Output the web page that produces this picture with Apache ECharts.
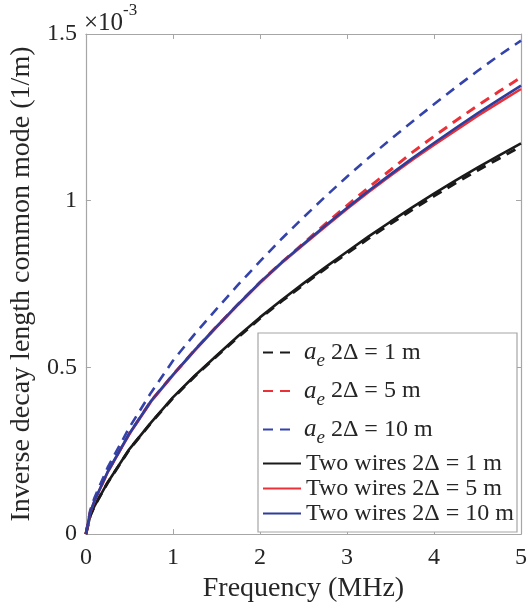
<!DOCTYPE html>
<html>
<head>
<meta charset="utf-8">
<script src="https://cdn.jsdelivr.net/npm/echarts@6/dist/echarts.min.js"></script>
<style>
  html, body { margin: 0; padding: 0; background: #fff; }
  #container { width: 530px; height: 608px; }
</style>
</head>
<body>
<div id="container"></div>
<script>
// frequency in MHz, values in units of 1e-3 (1/m)
var freq = [0, 0.05, 0.1, 0.25, 0.5, 0.75, 1, 1.25, 1.5, 1.75, 2, 2.25, 2.5, 2.75, 3, 3.25, 3.5, 3.75, 4, 4.25, 4.5, 4.75, 5];
var ae1  = [0, 0.055, 0.085, 0.154, 0.254, 0.334, 0.408, 0.473, 0.533, 0.591, 0.647, 0.699, 0.748, 0.796, 0.842, 0.887, 0.931, 0.973, 1.014, 1.053, 1.091, 1.127, 1.163];
var ae5  = [0, 0.066, 0.101, 0.187, 0.302, 0.400, 0.478, 0.552, 0.622, 0.690, 0.755, 0.815, 0.872, 0.930, 0.985, 1.040, 1.092, 1.145, 1.193, 1.240, 1.285, 1.328, 1.370];
var ae10 = [0, 0.072, 0.110, 0.200, 0.320, 0.425, 0.520, 0.600, 0.675, 0.748, 0.818, 0.886, 0.950, 1.012, 1.072, 1.129, 1.184, 1.237, 1.289, 1.340, 1.389, 1.436, 1.480];
var tw1  = [0, 0.055, 0.085, 0.155, 0.255, 0.335, 0.410, 0.475, 0.535, 0.594, 0.650, 0.702, 0.752, 0.800, 0.847, 0.893, 0.937, 0.980, 1.021, 1.061, 1.099, 1.136, 1.172];
var tw5  = [0, 0.065, 0.100, 0.185, 0.300, 0.398, 0.476, 0.550, 0.620, 0.688, 0.753, 0.813, 0.868, 0.922, 0.975, 1.026, 1.075, 1.122, 1.167, 1.211, 1.254, 1.295, 1.335];
var tw10 = [0, 0.066, 0.101, 0.187, 0.302, 0.400, 0.478, 0.552, 0.622, 0.690, 0.755, 0.815, 0.870, 0.925, 0.978, 1.030, 1.079, 1.127, 1.173, 1.218, 1.262, 1.304, 1.345];

var dashedNames = ['ae 1 m', 'ae 5 m', 'ae 10 m'];
var solidNames = ['Two wires 2\u0394 = 1 m', 'Two wires 2\u0394 = 5 m', 'Two wires 2\u0394 = 10 m'];

function pairs(ys) {
    return freq.map(function (f, i) { return [f, ys[i]]; });
}

var serif = 'Liberation Serif';
var axisGray = '#a6a6a6';
var textCol = '#262626';

function line(name, ys, color, dashed, width) {
    return {
        name: name,
        type: 'line',
        data: pairs(ys),
        smooth: false,
        symbol: 'none',
        lineStyle: { color: color, width: width, type: dashed ? [10, 7] : 'solid' },
        itemStyle: { color: color }
    };
}

var chart = echarts.init(document.getElementById('container'));
chart.setOption({
    animation: false,
    grid: { left: 81, right: 6, top: 34, bottom: 71 },
    graphic: [
        {
            type: 'rect',
            shape: { x: 258, y: 333, width: 259, height: 199 },
            style: { fill: '#fff', stroke: axisGray, lineWidth: 1.2 },
            z: 90
        },
        {
            type: 'text',
            left: 84, top: 2,
            style: {
                text: '{b|\u00d710}{s|-3}',
                fill: textCol,
                rich: {
                    b: { fontFamily: serif, fontSize: 25, lineHeight: 34, verticalAlign: 'bottom', fill: textCol },
                    s: { fontFamily: serif, fontSize: 17, lineHeight: 17, verticalAlign: 'top', fill: textCol }
                }
            }
        }
    ],
    legend: [
        {
            data: dashedNames,
            orient: 'vertical',
            left: 262, top: 340,
            padding: 0,
            itemGap: 8,
            itemWidth: 32, itemHeight: 14,
            itemStyle: { opacity: 0 },
            z: 100,
            formatter: function (name) {
                return '{a|a}{e|e}{t| 2\u0394 = ' + name.split(' ')[1] + ' m}';
            },
            textStyle: {
                fontFamily: serif, fontSize: 24, color: textCol, padding: [0, 0, 0, 4],
                rich: {
                    a: { fontFamily: serif, fontStyle: 'italic', fontSize: 25, lineHeight: 36, color: textCol },
                    e: { fontFamily: serif, fontStyle: 'italic', fontSize: 19, lineHeight: 8, padding: [10, 0, 0, 0], verticalAlign: 'bottom', color: textCol },
                    t: { fontFamily: serif, fontSize: 24, lineHeight: 36, color: textCol }
                }
            }
        },
        {
            data: solidNames,
            orient: 'vertical',
            left: 262, top: 451,
            padding: 0,
            itemGap: 0,
            itemWidth: 38, itemHeight: 14,
            itemStyle: { opacity: 0 },
            z: 100,
            textStyle: { fontFamily: serif, fontSize: 24, lineHeight: 25, color: textCol, padding: [0, 0, 0, 0] }
        }
    ],
    xAxis: [
        {
            type: 'value', min: 0, max: 5, interval: 1,
            name: 'Frequency (MHz)', nameLocation: 'middle', nameGap: 40,
            nameTextStyle: { fontFamily: serif, fontSize: 28, color: textCol },
            axisLine: { lineStyle: { color: axisGray, width: 1.2 } },
            axisTick: { inside: true, length: 5, lineStyle: { color: axisGray } },
            axisLabel: { fontFamily: serif, fontSize: 24, color: textCol, margin: 12 },
            splitLine: { show: false }
        },
        {
            type: 'value', min: 0, max: 5, interval: 1, position: 'top',
            axisLine: { onZero: false, lineStyle: { color: axisGray, width: 1.2 } },
            axisTick: { inside: true, length: 5, lineStyle: { color: axisGray } },
            axisLabel: { show: false },
            splitLine: { show: false }
        }
    ],
    yAxis: [
        {
            type: 'value', min: 0, max: 1.5, interval: 0.5,
            name: 'Inverse decay length common mode (1/m)', nameLocation: 'middle', nameGap: 48,
            nameTextStyle: { fontFamily: serif, fontSize: 28, color: textCol },
            axisLine: { show: true, lineStyle: { color: axisGray, width: 1.2 } },
            axisTick: { show: true, inside: true, length: 5, lineStyle: { color: axisGray } },
            axisLabel: { fontFamily: serif, fontSize: 24, color: textCol, margin: 9 },
            splitLine: { show: false }
        },
        {
            type: 'value', min: 0, max: 1.5, interval: 0.5, position: 'right',
            axisLine: { show: true, onZero: false, lineStyle: { color: axisGray, width: 1.2 } },
            axisTick: { show: true, inside: true, length: 5, lineStyle: { color: axisGray } },
            axisLabel: { show: false },
            splitLine: { show: false }
        }
    ],
    series: [
        line(dashedNames[0], ae1, '#1a1a1a', true, 3),
        line(dashedNames[1], ae5, '#ec3038', true, 3),
        line(dashedNames[2], ae10, '#3343ab', true, 2.6),
        line(solidNames[0], tw1, '#1a1a1a', false, 2.6),
        line(solidNames[1], tw5, '#ec3038', false, 2.6),
        line(solidNames[2], tw10, '#2c3d9c', false, 2.6)
    ]
});
</script>
</body>
</html>
